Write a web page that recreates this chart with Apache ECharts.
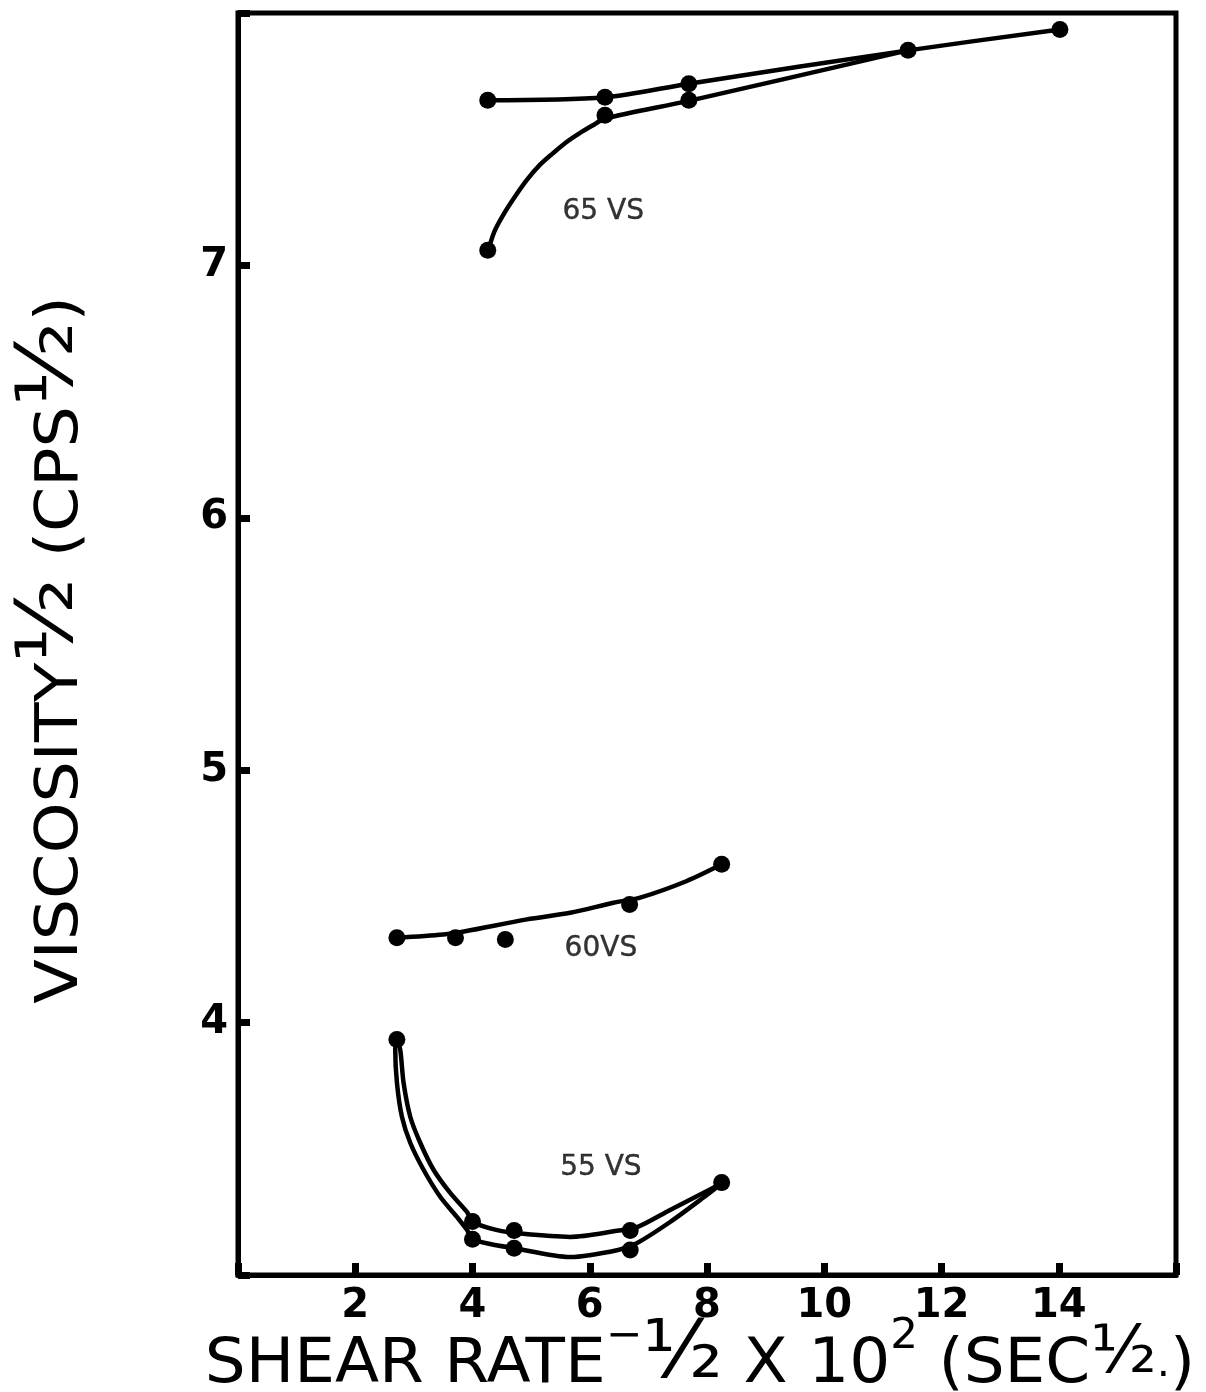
<!DOCTYPE html>
<html><head><meta charset="utf-8">
<script src="https://cdn.jsdelivr.net/npm/echarts@6/dist/echarts.min.js"></script>
<style>html,body{margin:0;padding:0;background:#fff}#c{width:1206px;height:1392px}</style>
</head><body><div id="c"></div>
<script>
// ---- data ----
const xTickLabels = [2, 4, 6, 8, 10, 12, 14];
const yTickLabels = [4, 5, 6, 7];

// measured points (markers)
const vs65UpperX = [4.26, 6.26, 7.69, 11.43, 14.02];
const vs65UpperY = [7.654, 7.666, 7.72, 7.852, 7.935];
const vs65LowerX = [4.26, 6.26, 7.69];
const vs65LowerY = [7.06, 7.595, 7.654];
const vs60X = [2.71, 3.71, 4.56, 6.68, 8.25];
const vs60Y = [4.336, 4.336, 4.329, 4.468, 4.627];
const vs55UpperX = [2.71, 4.00, 4.71, 6.69, 8.25];
const vs55UpperY = [3.933, 3.212, 3.176, 3.176, 3.366];
const vs55LowerX = [4.00, 4.71, 6.69];
const vs55LowerY = [3.142, 3.106, 3.099];

// hand-drawn fitted curves
const fit65UpperX = [4.26, 6.26, 7.69, 11.43, 14.02];
const fit65UpperY = [7.654, 7.666, 7.72, 7.852, 7.935];
const fit65LowerX = [4.263, 4.373, 4.558, 4.743, 4.928, 5.149, 5.371, 5.594, 5.816, 6.038, 6.263, 7.69, 11.43];
const fit65LowerY = [7.054, 7.134, 7.213, 7.279, 7.339, 7.398, 7.444, 7.487, 7.522, 7.553, 7.582, 7.652, 7.852];
const fit60X = [2.711, 3.50, 3.876, 4.928, 5.666, 6.404, 6.860, 7.656, 8.252];
const fit60Y = [4.336, 4.349, 4.362, 4.409, 4.435, 4.475, 4.495, 4.561, 4.627];
const fit55AX = [2.711, 2.767, 2.824, 2.938, 3.108, 3.335, 3.620, 3.905, 4.012, 4.404, 4.864, 5.666, 6.467, 6.810, 7.371, 7.934, 8.258];
const fit55AY = [3.933, 3.893, 3.762, 3.627, 3.524, 3.417, 3.325, 3.250, 3.210, 3.179, 3.163, 3.151, 3.175, 3.190, 3.258, 3.325, 3.365];
const fit55BX = [2.711, 2.682, 2.711, 2.796, 2.938, 3.165, 3.449, 3.734, 3.905, 3.995, 4.302, 4.694, 5.666, 6.484, 6.809, 7.371, 7.934, 8.258];
const fit55BY = [3.933, 3.893, 3.762, 3.627, 3.524, 3.417, 3.310, 3.230, 3.179, 3.143, 3.123, 3.107, 3.071, 3.099, 3.127, 3.210, 3.306, 3.365];

const noteText = ['65 VS', '60VS', '55 VS'];
const noteX = [6.23, 6.19, 6.19];
const noteY = [7.214, 4.294, 3.425];

// ---- chart ----
const pairs = (xs, ys) => xs.map((x, i) => [x, ys[i]]);
const FONT = 'DejaVu Sans';

function fitLine(name, xs, ys) {
  return {
    name, type: 'line', data: pairs(xs, ys), smooth: 0.3,
    symbol: 'none',
    lineStyle: { color: '#000', width: 4.5 },
    z: 3
  };
}
function markers(name, xs, ys) {
  return {
    name, type: 'scatter', data: pairs(xs, ys),
    symbol: 'circle', symbolSize: 17,
    itemStyle: { color: '#000', opacity: 1 },
    z: 4
  };
}

const chart = echarts.init(document.getElementById('c'), null, { renderer: 'canvas' });
chart.setOption({
  backgroundColor: '#fff',
  animation: false,
  grid: { left: 238, right: 30, top: 13, bottom: 117, show: true, borderColor: '#000', borderWidth: 5,
          outerBoundsMode: 'none', containLabel: false },
  xAxis: {
    type: 'value', min: 0, max: 16, interval: 2,
    axisLine: { show: true, lineStyle: { color: '#000', width: 5 } },
    axisTick: { show: true, inside: true, length: 12, lineStyle: { color: '#000', width: 7 } },
    splitLine: { show: false },
    axisLabel: {
      margin: 12, color: '#000', fontFamily: FONT, fontWeight: 'bold', fontSize: 40,
      formatter: v => xTickLabels.includes(v) ? String(v) : ''
    }
  },
  yAxis: {
    type: 'value', min: 3, max: 8, interval: 1,
    axisLine: { show: true, lineStyle: { color: '#000', width: 5 } },
    axisTick: { show: true, inside: true, length: 12, lineStyle: { color: '#000', width: 7 } },
    splitLine: { show: false },
    axisLabel: {
      margin: 10, color: '#000', fontFamily: FONT, fontWeight: 'bold', fontSize: 40,
      formatter: v => yTickLabels.includes(v) ? String(v) : ''
    }
  },
  graphic: [
    {
      type: 'text', x: 700, y: 1366, scaleX: 1.04, z: 10,
      style: {
        text: '{n|SHEAR RATE}{s|−}{f|½}{n| X 10}{s|2}{n| (SEC}{g|½}{d|.}{n|)}',
        align: 'center', verticalAlign: 'middle', fill: '#000',
        rich: {
          n: { fontSize: 62, lineHeight: 80, fontFamily: FONT, fill: '#000' },
          s: { fontSize: 42, lineHeight: 40, verticalAlign: 'top', fontFamily: FONT, fill: '#000' },
          f: { fontSize: 80, fontFamily: FONT, fill: '#000', padding: [0, 0, 20, 0] },
          g: { fontSize: 66, fontFamily: FONT, fill: '#000', padding: [0, 0, 22, 0] },
          d: { fontSize: 40, lineHeight: 80, fontFamily: FONT, fill: '#000' }
        }
      }
    },
    {
      type: 'text', x: 62, y: 650, rotation: Math.PI / 2, scaleX: 1.12, z: 10,
      style: {
        text: '{n|VISCOSITY}{f|½}{n| (CPS}{f|½}{n|)}',
        align: 'center', verticalAlign: 'middle', fill: '#000',
        rich: {
          n: { fontSize: 58, lineHeight: 80, fontFamily: FONT, fill: '#000' },
          f: { fontSize: 78, fontFamily: FONT, fill: '#000', padding: [0, 0, 20, 0] }
        }
      }
    }
  ],
  series: [
    fitLine('65 VS upper fit', fit65UpperX, fit65UpperY),
    fitLine('65 VS lower fit', fit65LowerX, fit65LowerY),
    fitLine('60 VS fit', fit60X, fit60Y),
    fitLine('55 VS upper fit', fit55AX, fit55AY),
    fitLine('55 VS lower fit', fit55BX, fit55BY),
    markers('65 VS upper', vs65UpperX, vs65UpperY),
    markers('65 VS lower', vs65LowerX, vs65LowerY),
    markers('60 VS', vs60X, vs60Y),
    markers('55 VS upper', vs55UpperX, vs55UpperY),
    markers('55 VS lower', vs55LowerX, vs55LowerY),
    {
      name: 'notes', type: 'scatter', symbolSize: 0,
      data: noteText.map((t, i) => ({ name: t, value: [noteX[i], noteY[i]] })),
      label: { show: true, position: 'inside', formatter: p => p.name, color: '#000',
               fontFamily: FONT, fontSize: 28, textBorderColor: '#000', textBorderWidth: 0.4 },
      z: 5
    }
  ]
});
</script></body></html>
